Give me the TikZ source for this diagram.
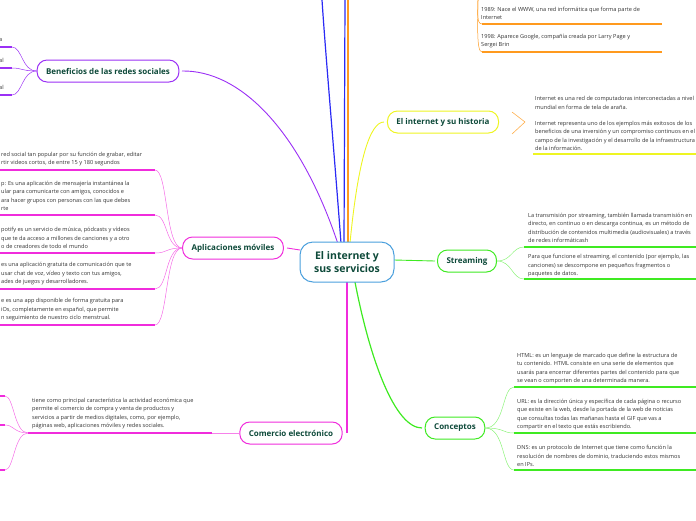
\documentclass[tikz,border=0pt]{standalone}
\usepackage{fontspec}
\setmainfont{Open Sans}
\usetikzlibrary{positioning}
\definecolor{cpurple}{HTML}{9B30F5}
\definecolor{cmagenta}{HTML}{F02CDC}
\definecolor{cyellow}{HTML}{EEF522}
\definecolor{cgreen}{HTML}{3FEA22}
\definecolor{corange}{HTML}{FF9A1E}
\definecolor{cblue}{HTML}{2A2AF5}
\definecolor{ccenter}{HTML}{4BA0DD}
\definecolor{ctext}{HTML}{0E4A3A}
\tikzset{
  topic/.style={draw, rounded corners=10pt, line width=1pt, fill=white, text=ctext,
    font=\bfseries\fontsize{8}{9}\selectfont, minimum height=22pt, inner xsep=9pt},
  leaf/.style={anchor=south west, align=left, inner sep=1pt,
    font=\fontsize{5.6}{8.4}\selectfont, text=black!80},
  uline/.style={line width=1.4pt},
  link/.style={line width=0.5pt}
}
\begin{document}
\begin{tikzpicture}[x=1pt,y=-1pt]
  \useasboundingbox (0,0) rectangle (696,520);
  \clip (0,0) rectangle (696,520);

  % main branches
  \draw[cblue, line width=1.2pt] (341,243) .. controls (334,150) and (326,60) .. (322,0);
  \draw[cblue, line width=1.2pt] (344,243) -- (345,0);
  \draw[corange, line width=1.2pt] (348,243) -- (348,0);
  \draw[cpurple, line width=0.9pt] (338,244) .. controls (300,130) and (240,70) .. (182,71);
  \draw[cmagenta, line width=0.9pt] (300,250) -- (287,248);
  \draw[cmagenta, line width=1.2pt] (347,282) -- (347,433);
  \draw[cyellow, line width=0.9pt] (350,243) .. controls (358,160) and (370,122) .. (384,122);
  \draw[cgreen, line width=0.9pt] (394,260) -- (435,261);
  \draw[cgreen, line width=1.2pt] (355,282) .. controls (370,360) and (395,428) .. (422,428);

  % center and topics
  \node[draw=ccenter, line width=1pt, rounded corners=13pt, fill=white, align=center,
    minimum width=94pt, minimum height=40pt, text=ctext,
    font=\bfseries\fontsize{10.5}{13}\selectfont] (center) at (347,262) {El internet y\\sus servicios};
  \node[topic, draw=cpurple] (benef) at (108,71) {Beneficios de las redes sociales};
  \node[topic, draw=cmagenta] (apps) at (233,248) {Aplicaciones móviles};
  \node[topic, draw=cmagenta] (comercio) at (291,433) {Comercio electrónico};
  \node[topic, draw=cyellow] (historia) at (443,122) {El internet y su historia};
  \node[topic, draw=cgreen] (streaming) at (467,261) {Streaming};
  \node[topic, draw=cgreen] (conceptos) at (455,428) {Conceptos};

  % history (top)
  \node[leaf] (hist1) at (480,21) {1989: Nace el WWW, una red informática que forma parte de\\Internet};
  \node[leaf] (hist2) at (480,49) {1998: Aparece Google, compañía creada por Larry Page y\\Sergei  Brin};
  \draw[corange, link] (478,0) .. controls (478,10) and (476,24) .. (482,24);
  \draw[corange, link] (478,0) .. controls (478,20) and (476,52) .. (482,52);
  \draw[corange, uline] (482,24) -- (662,24);
  \draw[corange, uline] (482,52) -- (662,52);

  \draw[corange!80, line width=0.6pt] (512,112) -- (525,122) -- (512,134);
  \node[leaf] (hist3) at (534,152) {Internet es una red de computadoras interconectadas a nivel\\mundial en forma de tela de araña.\\[8pt]Internet representa uno de los ejemplos más exitosos de los\\beneficios de una inversión y un compromiso continuos en el\\campo de la investigación y el desarrollo de la infraestructura\\de la información.};
  \draw[cyellow, uline] (533,154) -- (696,154);

  % beneficios leaves
  \foreach \y/\t in {47/a, 68/al, 95/al}{
    \node[leaf] at (-2,\y-4) {\t};
    \draw[cpurple, link] (benef.west) .. controls (22,71) and (22,\y) .. (12,\y);
    \draw[cpurple, uline] (12,\y) -- (0,\y);
  }

  % apps leaves
  \node[leaf] (tiktok) at (0,167) {red social tan popular por su función de grabar, editar\\rtir videos cortos, de entre 15 y 180 segundos};
  \node[leaf] (whats) at (0,212) {p: Es una aplicación de mensajería instantánea  la\\ular para comunicarte con amigos, conocidos e\\ara hacer grupos con personas con las que debes\\rte};
  \node[leaf] (spotify) at (0,250) {potify es un servicio de música, pódcasts y vídeos\\que te da acceso a millones de canciones y a otro\\o de creadores de todo el mundo};
  \node[leaf] (discord) at (0,286) {es una aplicación gratuita de comunicación que te\\usar chat de voz, vídeo y texto con tus amigos,\\ades de juegos y desarrolladores.};
  \node[leaf] (flo) at (0,322) {e es una app disponible de forma gratuita para\\iOs, completamente en español, que permite\\n seguimiento de nuestro ciclo menstrual.};
  \foreach \y in {170,215,253,289,325}{
    \draw[cmagenta!70, link] (apps.west) .. controls (165,248) and (168,\y) .. (155,\y);
    \draw[cmagenta, uline] (155,\y) -- (0,\y);
  }

  % comercio leaves
  \node[leaf] (ecomm) at (31,430) {tiene como principal característica la actividad económica que\\permite el comercio de compra y venta de productos y\\servicios a partir de medios digitales, como, por ejemplo,\\páginas web, aplicaciones móviles y redes sociales.};
  \draw[cmagenta!60, link] (comercio.west) -- (212,433);
  \draw[cmagenta, uline] (212,433) -- (28,433);
  \foreach \y in {396,425,470}{
    \draw[cmagenta!70, link] (28,433) .. controls (14,433) and (14,\y) .. (5,\y);
    \draw[cmagenta, uline] (5,\y) -- (0,\y);
  }

  % streaming leaves
  \node[leaf] (str1) at (527,244) {La transmisión por streaming, también llamada transmisión en\\directo, en continuo o en descarga continua, es un método de\\distribución de contenidos multimedia (audiovisuales) a través\\de redes informáticash};
  \node[leaf] (str2) at (527,278) {Para que funcione el streaming, el contenido (por ejemplo, las\\canciones) se descompone en pequeños fragmentos o\\paquetes de datos.};
  \draw[cgreen!60, link] (streaming.east) .. controls (512,261) and (512,247) .. (524,247);
  \draw[cgreen!60, link] (streaming.east) .. controls (512,261) and (512,279) .. (524,279);
  \draw[cgreen, uline] (524,247) -- (696,247);
  \draw[cgreen, uline] (524,279) -- (696,279);

  % conceptos leaves
  \node[leaf] (html) at (516,385) {HTML: es un lenguaje de marcado que define la estructura de\\tu contenido. HTML consiste en una serie de elementos que\\usarás para encerrar diferentes partes del contenido para que\\se vean o comporten de una determinada manera.};
  \node[leaf] (url) at (516,431) {URL: es la dirección única y específica de cada página o recurso\\que existe en la web, desde la portada de la web de noticias\\que consultas todas las mañanas hasta el GIF que vas a\\compartir en el texto que estás escribiendo.};
  \node[leaf] (dns) at (516,468) {DNS: es un protocolo de Internet que tiene como función la\\resolución de nombres de dominio, traduciendo estos mismos\\en IPs.};
  \foreach \y in {387,433,470}{
    \draw[cgreen!60, link] (conceptos.east) .. controls (505,428) and (502,\y) .. (514,\y);
    \draw[cgreen, uline] (514,\y) -- (696,\y);
  }
\end{tikzpicture}
\end{document}
